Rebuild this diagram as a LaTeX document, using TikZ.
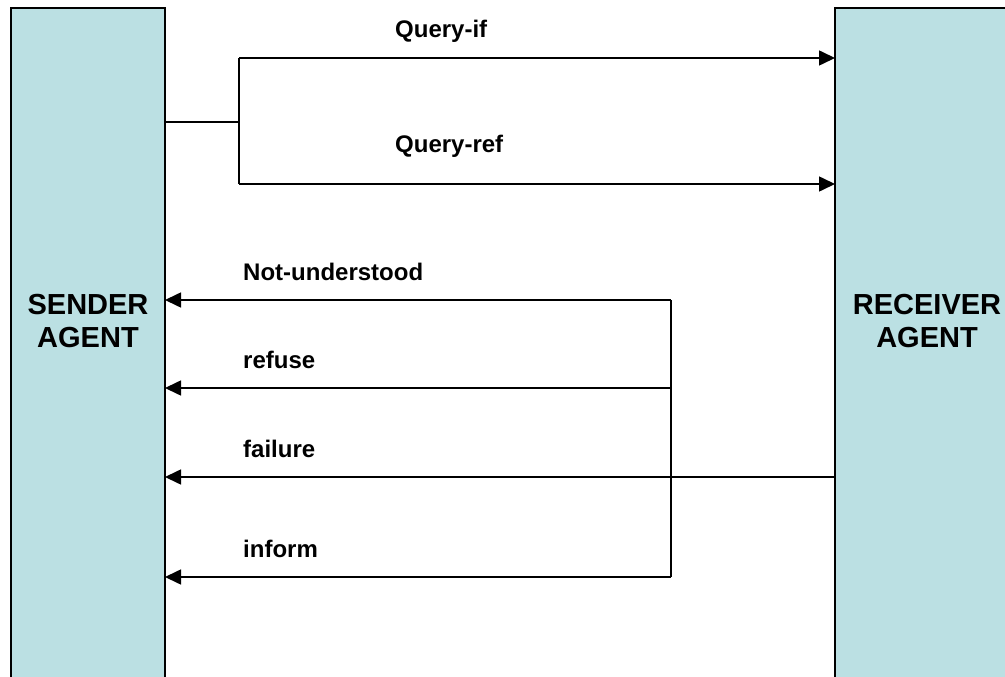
\documentclass[tikz,border=0pt]{standalone}
\usepackage{fontspec}
\setmainfont{Liberation Sans}
\usetikzlibrary{arrows.meta}
\definecolor{agentfill}{HTML}{BBE0E3}
\begin{document}
\begin{tikzpicture}[x=1pt,y=-1pt,
  agentbar/.style={draw=black, line width=1.6pt, fill=agentfill, inner sep=0pt, outer sep=0pt, anchor=north west},
  agentlabel/.style={font=\bfseries\fontsize{29}{33}\selectfont, align=center, inner sep=0pt},
  msglabel/.style={font=\bfseries\fontsize{24}{28}\selectfont, anchor=base west, inner sep=0pt},
  wire/.style={draw=black, line width=1.6pt},
  msg/.style={wire, -{Triangle[length=16pt,width=15pt]}}]
\useasboundingbox (0,0) rectangle (1005,677);
\clip (0,0) rectangle (1005,677);
\fill[white] (0,0) rectangle (1005,677);

% the two agents
\node[agentbar, minimum width=154pt, minimum height=700pt] (sender) at (11,8) {};
\node[agentbar, minimum width=200pt, minimum height=700pt] (receiver) at (835,8) {};
\node[agentlabel] (senderlabel) at (88,321) {SENDER\\AGENT};
\node[agentlabel] (receiverlabel) at (927,321) {RECEIVER\\AGENT};

% outgoing queries
\coordinate (fork) at (239,122);
\coordinate (qif) at (239,58);
\coordinate (qref) at (239,184);
\draw[wire] (sender.east |- fork) -- (fork);
\draw[wire] (qif) -- (qref);
\draw[msg] (qif) -- (receiver.west |- qif);
\draw[msg] (qref) -- (receiver.west |- qref);
\node[msglabel] (lqif) at (395,38) {Query-if};
\node[msglabel] (lqref) at (395,153) {Query-ref};

% replies
\coordinate (rnu) at (671,300);
\coordinate (rref) at (671,388);
\coordinate (rfail) at (671,477);
\coordinate (rinf) at (671,577);
\draw[wire] (rnu) -- (rinf);
\draw[msg] (rnu) -- (sender.east |- rnu);
\draw[msg] (rref) -- (sender.east |- rref);
\draw[msg] (receiver.west |- rfail) -- (sender.east |- rfail);
\draw[msg] (rinf) -- (sender.east |- rinf);
\node[msglabel] (lnu) at (243,280) {Not-understood};
\node[msglabel] (lref) at (243,368) {refuse};
\node[msglabel] (lfail) at (243,457) {failure};
\node[msglabel] (linf) at (243,557) {inform};
\end{tikzpicture}
\end{document}
